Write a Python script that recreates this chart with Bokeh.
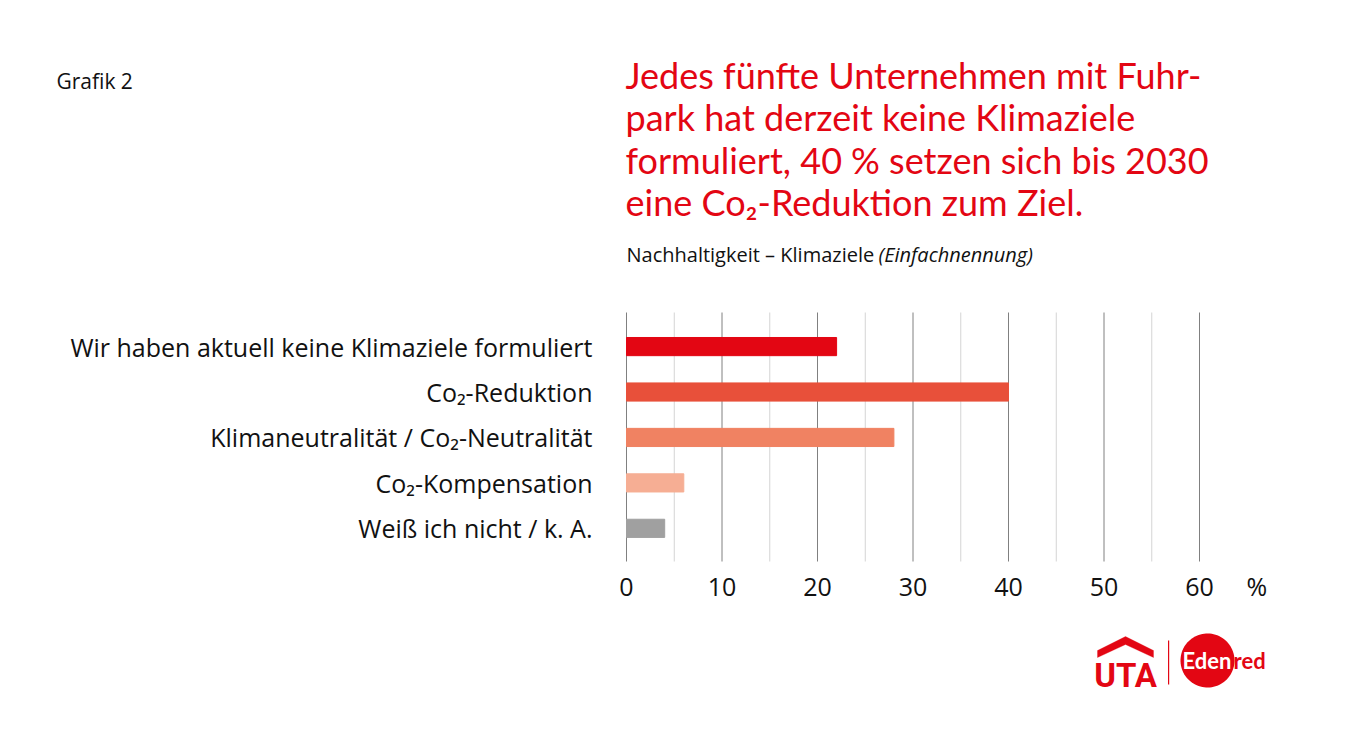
import numpy as np
from bokeh.plotting import figure
from bokeh.models import Range1d, FixedTicker, Label, PolyAnnotation
from bokeh.embed import file_html
from bokeh.resources import INLINE

categories = [
    "Wir haben aktuell keine Klimaziele formuliert",
    "Co\u2082-Reduktion",
    "Klimaneutralit\u00e4t / Co\u2082-Neutralit\u00e4t",
    "Co\u2082-Kompensation",
    "Wei\u00df ich nicht / k. A.",
]
values = [22, 40, 28, 6, 4]
colors = ["#E30613", "#E8503A", "#F08262", "#F6AE94", "#A0A0A0"]
major_ticks = [0, 10, 20, 30, 40, 50, 60]
minor_ticks = [5, 15, 25, 35, 45, 55]
unit_tick = 66
title_lines = [
    "Jedes f\u00fcnfte Unternehmen mit Fuhr-",
    "park hat derzeit keine Klimaziele",
    "formuliert, 40\u202f% setzen sich bis 2030",
    "eine Co\u2082-Reduktion zum Ziel.",
]
subtitle = "Nachhaltigkeit \u2013 Klimaziele"
subtitle_note = "(Einfachnennung)"

W, H = 1333, 736
RED = "#E30613"
TXT = "#111111"

# chart area (page pixels) and its data extent
CX0, CX60 = 626, 1199          # x of value 0 and 60
CT, CB = 312, 561              # top / bottom of grid area
y_lo, y_hi = -0.75, 4.73       # data extent of grid area (top .. bottom)
kx = (CX60 - CX0) / 60.0
ky = (CB - CT) / (y_hi - y_lo)

x_start = (0 - CX0) / kx
x_end = (W - CX0) / kx
y_top = y_lo - (CT - 0) / ky
y_bot = y_hi + (H - CB) / ky


def sx(x_page):
    return x_page


def sy(y_page):
    return H - y_page


positions = list(range(len(categories)))

p = figure(width=W, height=H, output_backend="svg", toolbar_location=None,
           x_range=Range1d(x_start, x_end), y_range=Range1d(y_bot, y_top),
           min_border=0)
p.outline_line_color = None
p.xgrid.visible = False
p.ygrid.visible = False

# grid lines limited to the chart area
p.segment(x0=minor_ticks, x1=minor_ticks, y0=[y_lo] * len(minor_ticks),
          y1=[y_hi] * len(minor_ticks), line_color="#d4d4d4", line_width=1)
p.segment(x0=major_ticks, x1=major_ticks, y0=[y_lo] * len(major_ticks),
          y1=[y_hi] * len(major_ticks), line_color="#808080", line_width=1)

p.hbar(y=positions, right=values, left=0, height=0.4, color=colors)

# x axis at the bottom of the chart area
xa = p.xaxis[0]
xa.fixed_location = y_hi
xa.ticker = FixedTicker(ticks=major_ticks + [unit_tick])
xa.major_label_overrides = {unit_tick: "%"}
xa.axis_line_color = None
xa.major_tick_line_color = None
xa.minor_tick_line_color = None
xa.major_label_text_font = "Open Sans"
xa.major_label_text_font_size = "25px"
xa.major_label_text_color = TXT
xa.major_label_standoff = 1

# y axis at x = 0
ya = p.yaxis[0]
ya.fixed_location = 0
ya.ticker = FixedTicker(ticks=positions)
ya.major_label_overrides = {i: c for i, c in enumerate(categories)}
ya.axis_line_color = None
ya.major_tick_line_color = None
ya.minor_tick_line_color = None
ya.major_label_text_font = "Open Sans"
ya.major_label_text_font_size = "25px"
ya.major_label_text_color = TXT
ya.major_label_standoff = 28

# ---------- header ----------
p.add_layout(Label(x=sx(56), y=sy(80), x_units="screen", y_units="screen", text="Grafik 2",
                   text_font="Open Sans", text_font_size="21px", text_color=TXT,
                   text_baseline="alphabetic"))
baselines = [74, 116, 159, 201]
for line, b in zip(title_lines, baselines):
    p.add_layout(Label(x=sx(625), y=sy(b), x_units="screen", y_units="screen", text=line,
                       text_font="Lato", text_font_size="36px", text_color=RED,
                       text_baseline="alphabetic"))
p.add_layout(Label(x=sx(626), y=sy(254), x_units="screen", y_units="screen", text=subtitle,
                   text_font="Open Sans", text_font_size="20px", text_color=TXT,
                   text_baseline="alphabetic"))
p.add_layout(Label(x=sx(878), y=sy(254), x_units="screen", y_units="screen",
                   text=subtitle_note, text_font="Open Sans", text_font_style="italic",
                   text_font_size="20px", text_color=TXT, text_baseline="alphabetic"))

# ---------- logo ----------
roof_x = [1097, 1125, 1153, 1153, 1125, 1097]
roof_y = [650, 636, 650, 657, 644, 657]
p.add_layout(PolyAnnotation(xs=[sx(v) for v in roof_x], ys=[sy(v) for v in roof_y],
                            xs_units="screen", ys_units="screen",
                            fill_color=RED, fill_alpha=1, line_color=RED))
p.add_layout(Label(x=sx(1125), y=sy(675), x_units="screen", y_units="screen", text="UTA",
                   text_font="Roboto", text_font_style="bold",
                   text_font_size="33px", text_color=RED, text_align="center",
                   text_baseline="alphabetic"))
p.add_layout(PolyAnnotation(xs=[sx(1167.5), sx(1168.7), sx(1168.7), sx(1167.5)],
                            ys=[sy(640), sy(640), sy(684), sy(684)],
                            xs_units="screen", ys_units="screen",
                            fill_color=RED, fill_alpha=1, line_color=None))
t = np.linspace(0, 2 * np.pi, 90)
cx, cy, r = 1207, 660, 27
p.add_layout(PolyAnnotation(xs=list(sx(cx + r * np.cos(t))), ys=list(sy(cy + r * np.sin(t))),
                            xs_units="screen", ys_units="screen",
                            fill_color=RED, fill_alpha=1, line_color=None))
p.add_layout(Label(x=sx(1182), y=sy(660), x_units="screen", y_units="screen", text="Eden",
                   text_font="Lato", text_font_style="bold", text_font_size="22px",
                   text_color="white", text_baseline="alphabetic"))
p.add_layout(Label(x=sx(1233), y=sy(660), x_units="screen", y_units="screen", text="red",
                   text_font="Lato", text_font_style="bold", text_font_size="22px",
                   text_color=RED, text_baseline="alphabetic"))

open("out.html", "w").write(file_html(p, INLINE))
